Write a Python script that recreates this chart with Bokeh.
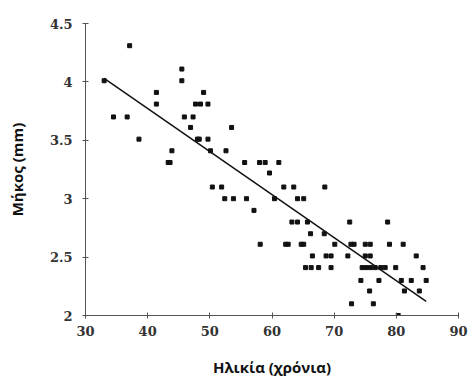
from bokeh.plotting import figure
from bokeh.models import Range1d, FixedTicker
from bokeh.embed import file_html
from bokeh.resources import INLINE

# Data
age = [33, 34.5, 36.7, 37.1, 38.6, 41.4, 41.4, 43.3, 43.6, 43.9,
       45.5, 45.5, 45.9, 46.9, 47.3, 47.7, 48.5, 49.0, 49.7, 48.0,
       48.3, 49.7, 50.1, 52.6, 53.5, 55.6, 58.0, 58.9, 59.6, 61.1,
       50.4, 51.9, 52.4, 53.8, 55.9, 57.1, 58.1, 60.4, 61.9, 63.5,
       64.1, 65.1, 68.5, 63.2, 64.1, 65.7, 66.2, 68.4, 62.2, 62.6,
       64.7, 65.1, 70.1, 72.7, 73.2, 75.0, 75.8, 78.9, 81.1, 66.5,
       68.7, 69.5, 72.2, 75.0, 75.8, 83.2, 65.4, 66.3, 67.5, 69.5,
       74.5, 75.2, 75.9, 76.6, 77.5, 78.2, 79.9, 84.3, 72.5, 78.6,
       74.3, 77.2, 80.8, 82.4, 84.8, 75.7, 81.3, 83.7, 72.8, 76.3,
       80.3]
length = [4.01, 3.70, 3.70, 4.31, 3.51, 3.91, 3.81, 3.31, 3.31, 3.41,
          4.11, 4.01, 3.70, 3.61, 3.70, 3.81, 3.81, 3.91, 3.81, 3.51,
          3.51, 3.51, 3.41, 3.41, 3.61, 3.31, 3.31, 3.31, 3.22, 3.31,
          3.10, 3.10, 3.00, 3.00, 3.00, 2.90, 2.61, 3.00, 3.10, 3.10,
          3.00, 3.00, 3.10, 2.80, 2.80, 2.80, 2.70, 2.70, 2.61, 2.61,
          2.61, 2.61, 2.61, 2.61, 2.61, 2.61, 2.61, 2.61, 2.61, 2.51,
          2.51, 2.51, 2.51, 2.51, 2.51, 2.51, 2.41, 2.41, 2.41, 2.41,
          2.41, 2.41, 2.41, 2.41, 2.41, 2.41, 2.41, 2.41, 2.80, 2.80,
          2.30, 2.30, 2.30, 2.30, 2.30, 2.21, 2.21, 2.21, 2.10, 2.10,
          2.00]
fit_age = [33, 84.8]
fit_length = [4.03, 2.12]
x_ticks = [30, 40, 50, 60, 70, 80, 90]
y_ticks = [2, 2.5, 3, 3.5, 4, 4.5]

p = figure(width=470, height=379, output_backend="svg", toolbar_location=None,
           x_range=Range1d(30, 90), y_range=Range1d(2, 4.5),
           min_border_left=85, min_border_right=12, min_border_top=23,
           min_border_bottom=62)
p.outline_line_color = None
p.xgrid.visible = False
p.ygrid.visible = False

p.line(fit_age, fit_length, line_color="#111111", line_width=1.5)
p.scatter(age, length, marker="square", size=4, color="#111111")

for ax in (p.xaxis[0], p.yaxis[0]):
    ax.axis_line_color = "#555555"
    ax.major_tick_line_color = "#555555"
    ax.major_tick_in = 3
    ax.major_tick_out = 3
    ax.minor_tick_line_color = None
    ax.major_label_text_font = "DejaVu Serif"
    ax.major_label_text_font_style = "bold"
    ax.major_label_text_font_size = "13px"
    ax.major_label_text_color = "#333333"
    ax.axis_label_text_font = "Open Sans"
    ax.axis_label_text_font_style = "bold"
    ax.axis_label_text_font_size = "15px"
    ax.axis_label_text_color = "#111111"

p.xaxis.ticker = FixedTicker(ticks=x_ticks)
p.yaxis.ticker = FixedTicker(ticks=y_ticks)
p.yaxis.major_label_overrides = {2: "2", 3: "3", 4: "4"}
p.xaxis.axis_label = "Ηλικία (χρόνια)"
p.yaxis.axis_label = "Μήκος (mm)"
p.xaxis.major_label_standoff = 7
p.yaxis.major_label_standoff = 10
p.xaxis.axis_label_standoff = 18
p.yaxis.axis_label_standoff = 20

open("out.html", "w").write(file_html(p, INLINE))
